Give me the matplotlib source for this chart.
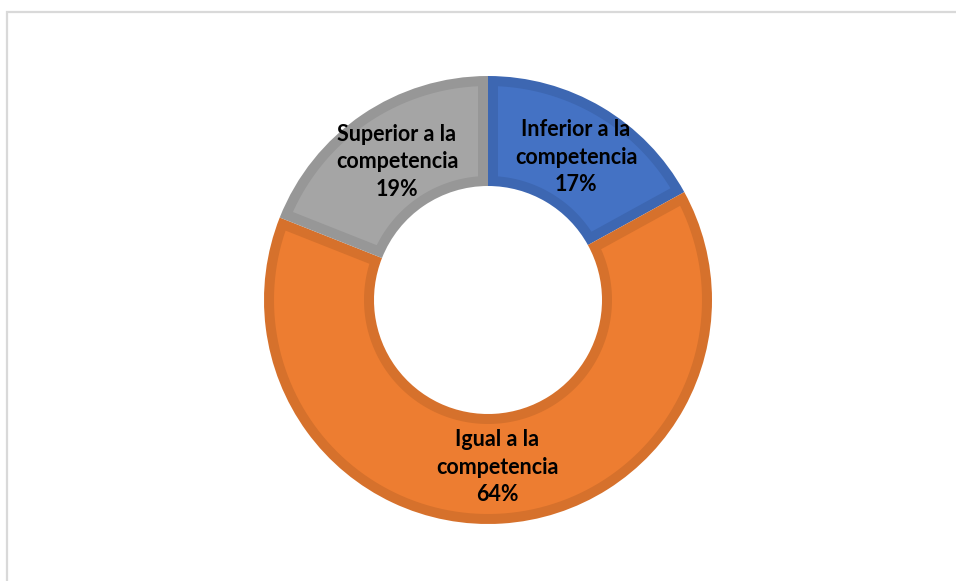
import numpy as np
import matplotlib.pyplot as plt
from matplotlib.patches import Rectangle, Polygon

categories = ["Inferior a la\ncompetencia", "Igual a la\ncompetencia", "Superior a la\ncompetencia"]
shares = [17, 64, 19]
fills = ["#4472C4", "#ED7D31", "#A5A5A5"]
edges = ["#3D67B2", "#D6712C", "#979797"]

W, H = 956, 581
fig = plt.figure(figsize=(W / 100, H / 100), dpi=100)
ax = fig.add_axes([0, 0, 1, 1])

# light frame around the chart area (runs off the right and bottom edges)
ax.add_patch(Rectangle((7.5, -10), W, H - 11.5 + 10, fill=False,
                       edgecolor="#D9D9D9", linewidth=1.6))

cx, cy, r = 488, H - 300, 224
ring = 110
# segments painted in the darker border colour first
wedges, _ = ax.pie(shares, colors=edges, startangle=90, counterclock=False,
                   center=(cx, cy), radius=r,
                   wedgeprops=dict(width=ring, linewidth=0))
ax.set_xlim(0, W)
ax.set_ylim(0, H)
ax.set_aspect("equal")
ax.axis("off")


def inset(w, b):
    # segment shape shrunk by b pixels on every side
    t1, t2 = np.radians(w.theta1), np.radians(w.theta2)
    ro, ri = w.r - b, w.r - w.width + b
    a_out = np.linspace(t1 + np.arcsin(b / ro), t2 - np.arcsin(b / ro), 120)
    a_in = np.linspace(t2 - np.arcsin(b / ri), t1 + np.arcsin(b / ri), 120)
    xs = np.concatenate([ro * np.cos(a_out), ri * np.cos(a_in)]) + w.center[0]
    ys = np.concatenate([ro * np.sin(a_out), ri * np.sin(a_in)]) + w.center[1]
    return np.column_stack([xs, ys])


for w, fc in zip(wedges, fills):
    ax.add_patch(Polygon(inset(w, 10), closed=True, facecolor=fc, linewidth=0))

label_pos = [(576, H - 157), (497, H - 467), (397, H - 162)]
for name, val, (x, y) in zip(categories, shares, label_pos):
    ax.text(x, y, f"{name}\n{val}%", ha="center", va="center",
            fontsize=15.5, fontweight="bold", family="Lato",
            linespacing=1.38, color="#000000")

fig.savefig("out.png", dpi=100)
